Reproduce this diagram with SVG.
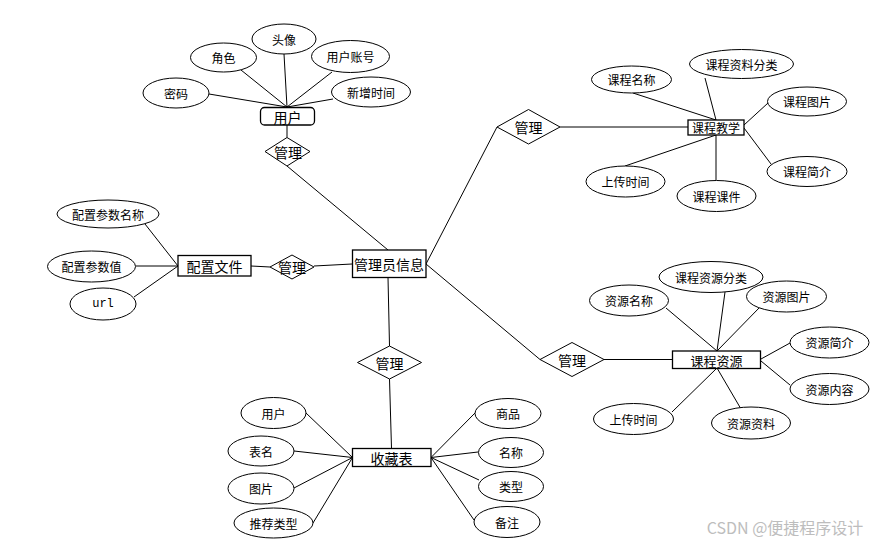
<svg xmlns="http://www.w3.org/2000/svg" width="872" height="542" viewBox="0 0 872 542">
<style>
  .e { fill: #fff; stroke: #000; stroke-width: 1; }
  .b { fill: #fff; stroke: #000; stroke-width: 1.3; }
  .d { fill: #fff; stroke: #000; stroke-width: 1; }
  .c line { stroke: #000; stroke-width: 1; }
  text { font-family: "Noto Sans CJK SC", "Noto Sans", sans-serif; text-anchor: middle; dominant-baseline: central; fill: #000; }
  .s { font-size: 12px; }
  .m { font-size: 14px; }
  .k { font-size: 13px; }
  .u { font-family: "Liberation Mono", monospace; font-size: 12px; }
</style>
<rect width="872" height="542" fill="#fff"/>
<g id="connectors" class="c">
  <line x1="209" y1="94" x2="287" y2="107"/>
  <line x1="241" y1="70" x2="287" y2="107"/>
  <line x1="284" y1="54" x2="287" y2="107"/>
  <line x1="332" y1="72" x2="287" y2="107"/>
  <line x1="333" y1="99" x2="287" y2="107"/>
  <line x1="287" y1="125" x2="287" y2="137.5"/>
  <line x1="287" y1="166" x2="388" y2="250"/>
  <line x1="145" y1="224" x2="178" y2="266"/>
  <line x1="136" y1="266" x2="178" y2="266"/>
  <line x1="134" y1="297" x2="178" y2="266"/>
  <line x1="251" y1="266" x2="270" y2="267"/>
  <line x1="314" y1="266" x2="352" y2="264"/>
  <line x1="426" y1="264" x2="497" y2="127"/>
  <line x1="426" y1="264" x2="540" y2="359.5"/>
  <line x1="388" y1="277.5" x2="389.5" y2="346"/>
  <line x1="560" y1="127" x2="688" y2="127"/>
  <line x1="633" y1="93" x2="716" y2="120"/>
  <line x1="705" y1="78" x2="716" y2="120"/>
  <line x1="768" y1="103" x2="744" y2="125"/>
  <line x1="771" y1="164" x2="744" y2="128"/>
  <line x1="625" y1="166" x2="716" y2="135"/>
  <line x1="716" y1="180" x2="716" y2="135"/>
  <line x1="604" y1="359.5" x2="672" y2="359.5"/>
  <line x1="666" y1="308" x2="717" y2="351"/>
  <line x1="725" y1="292" x2="717" y2="351"/>
  <line x1="760" y1="307" x2="717" y2="351"/>
  <line x1="790" y1="343" x2="761" y2="359"/>
  <line x1="790" y1="385" x2="761" y2="361"/>
  <line x1="672" y1="412" x2="717" y2="368"/>
  <line x1="741" y1="409" x2="717" y2="368"/>
  <line x1="389.5" y1="379" x2="391.5" y2="448.5"/>
  <line x1="306" y1="413" x2="352.5" y2="457.5"/>
  <line x1="294" y1="451" x2="352.5" y2="457.5"/>
  <line x1="294" y1="488" x2="352.5" y2="457.5"/>
  <line x1="313" y1="523" x2="352.5" y2="457.5"/>
  <line x1="475" y1="413" x2="431" y2="457.5"/>
  <line x1="478" y1="452" x2="431" y2="457.5"/>
  <line x1="479" y1="480" x2="431" y2="457.5"/>
  <line x1="474" y1="520" x2="431" y2="457.5"/>
</g>

<g id="user">
  <rect class="b" x="260.5" y="107.5" width="54" height="17.5" rx="4"/>
  <text class="m" x="287.5" y="116.5">用户</text>
</g>
<g id="user-pwd"><ellipse class="e" cx="176" cy="93" rx="33" ry="15"/><text class="s" x="176" y="93">密码</text></g>
<g id="user-role"><ellipse class="e" cx="223.5" cy="57.5" rx="33" ry="14.5"/><text class="s" x="223.5" y="57.5">角色</text></g>
<g id="user-avatar"><ellipse class="e" cx="284" cy="39" rx="32" ry="15"/><text class="s" x="284" y="39">头像</text></g>
<g id="user-account"><ellipse class="e" cx="350.5" cy="56.5" rx="39" ry="16"/><text class="s" x="350.5" y="56.5">用户账号</text></g>
<g id="user-time"><ellipse class="e" cx="371" cy="92" rx="39.5" ry="15"/><text class="s" x="371" y="92">新增时间</text></g>
<g id="rel-user"><polygon class="d" points="287,137.5 310,151.5 287,166 265,151.5"/><text class="m" x="288" y="151.5">管理</text></g>

<g id="admin">
  <rect class="b" x="352.5" y="250" width="73.5" height="27.5"/>
  <text class="m" x="389" y="264">管理员信息</text>
</g>

<g id="config">
  <rect class="b" x="178" y="255.5" width="73" height="20.5"/>
  <text class="m" x="214.5" y="266">配置文件</text>
</g>
<g id="config-name"><ellipse class="e" cx="108" cy="214" rx="51" ry="14"/><text class="s" x="108" y="214">配置参数名称</text></g>
<g id="config-value"><ellipse class="e" cx="91.5" cy="266.5" rx="44" ry="15.5"/><text class="s" x="91.5" y="266.5">配置参数值</text></g>
<g id="config-url"><ellipse class="e" cx="103" cy="304" rx="33" ry="16"/><text class="u" x="103" y="304">url</text></g>
<g id="rel-config"><polygon class="d" points="270,267 292,255 314,267 292,279"/><text class="m" x="292" y="267">管理</text></g>

<g id="course">
  <rect class="b" x="688" y="120" width="56" height="15"/>
  <text class="s" x="716" y="127.5">课程教学</text>
</g>
<g id="course-name"><ellipse class="e" cx="631.5" cy="79.5" rx="40" ry="13.5"/><text class="s" x="631.5" y="79.5">课程名称</text></g>
<g id="course-cat"><ellipse class="e" cx="741.5" cy="64" rx="52" ry="14.5"/><text class="s" x="741.5" y="64">课程资料分类</text></g>
<g id="course-pic"><ellipse class="e" cx="807" cy="101.5" rx="39.5" ry="14.5"/><text class="s" x="807" y="101.5">课程图片</text></g>
<g id="course-intro"><ellipse class="e" cx="807" cy="171.5" rx="40" ry="15"/><text class="s" x="807" y="171.5">课程简介</text></g>
<g id="course-time"><ellipse class="e" cx="625.5" cy="181.5" rx="39.5" ry="15.5"/><text class="s" x="625.5" y="181.5">上传时间</text></g>
<g id="course-ware"><ellipse class="e" cx="716.5" cy="196" rx="39.5" ry="15.5"/><text class="s" x="716.5" y="196">课程课件</text></g>
<g id="rel-course"><polygon class="d" points="497,127 528.5,109.5 560,127 528.5,144"/><text class="m" x="528.5" y="127">管理</text></g>

<g id="resource">
  <rect class="b" x="672.5" y="351" width="88" height="17.5"/>
  <text class="k" x="716.5" y="360">课程资源</text>
</g>
<g id="res-name"><ellipse class="e" cx="629" cy="300.5" rx="39.5" ry="15.5"/><text class="s" x="629" y="300.5">资源名称</text></g>
<g id="res-cat"><ellipse class="e" cx="711" cy="277" rx="52" ry="15.5"/><text class="s" x="711" y="277">课程资源分类</text></g>
<g id="res-pic"><ellipse class="e" cx="786.5" cy="296.5" rx="40" ry="15.5"/><text class="s" x="786.5" y="296.5">资源图片</text></g>
<g id="res-intro"><ellipse class="e" cx="829.5" cy="342.5" rx="39.5" ry="15.5"/><text class="s" x="829.5" y="342.5">资源简介</text></g>
<g id="res-content"><ellipse class="e" cx="829.5" cy="389" rx="39.5" ry="15.5"/><text class="s" x="829.5" y="389">资源内容</text></g>
<g id="res-time"><ellipse class="e" cx="633.5" cy="419" rx="40" ry="15.5"/><text class="s" x="633.5" y="419">上传时间</text></g>
<g id="res-file"><ellipse class="e" cx="751" cy="423" rx="39.5" ry="16"/><text class="s" x="751" y="423">资源资料</text></g>
<g id="rel-resource"><polygon class="d" points="540,359.5 572,342.5 604,359.5 572,376.5"/><text class="m" x="572" y="359.5">管理</text></g>

<g id="favorite">
  <rect class="b" x="352.5" y="448.5" width="78.5" height="18"/>
  <text class="m" x="391.5" y="457.5">收藏表</text>
</g>
<g id="fav-user"><ellipse class="e" cx="273.5" cy="413" rx="32.5" ry="15.5"/><text class="s" x="273.5" y="413">用户</text></g>
<g id="fav-table"><ellipse class="e" cx="261" cy="451" rx="33" ry="15"/><text class="s" x="261" y="451">表名</text></g>
<g id="fav-pic"><ellipse class="e" cx="261" cy="488.5" rx="33" ry="15.5"/><text class="s" x="261" y="488.5">图片</text></g>
<g id="fav-rec"><ellipse class="e" cx="273.5" cy="523" rx="39.5" ry="15"/><text class="s" x="273.5" y="523">推荐类型</text></g>
<g id="fav-goods"><ellipse class="e" cx="508" cy="413.5" rx="33" ry="15"/><text class="s" x="508" y="413.5">商品</text></g>
<g id="fav-name"><ellipse class="e" cx="511" cy="452.5" rx="32.5" ry="15"/><text class="s" x="511" y="452.5">名称</text></g>
<g id="fav-type"><ellipse class="e" cx="511" cy="486.5" rx="32.5" ry="15"/><text class="s" x="511" y="486.5">类型</text></g>
<g id="fav-note"><ellipse class="e" cx="507" cy="522" rx="33" ry="15.5"/><text class="s" x="507" y="522">备注</text></g>
<g id="rel-favorite"><polygon class="d" points="357.5,362.5 389.5,346 421.5,362.5 389.5,379"/><text class="m" x="389.5" y="362.5">管理</text></g>

<text x="785" y="527" style="font-size:16px; fill:#bdbdbd;">CSDN @便捷程序设计</text>
</svg>
